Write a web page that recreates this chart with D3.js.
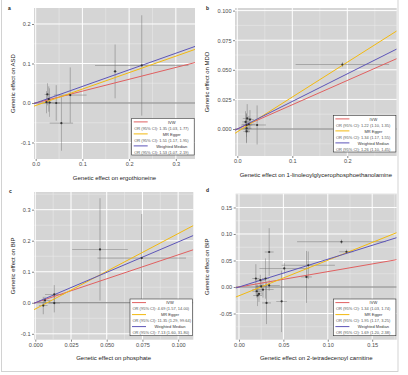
<!DOCTYPE html>
<html><head><meta charset="utf-8">
<script src="https://cdn.jsdelivr.net/npm/d3@7"></script>
<style>body{margin:0;background:#fff}svg{display:block;font-family:"Liberation Sans",Arial,sans-serif}</style>
</head><body><svg id="c" width="408" height="375"></svg>
<script>
// ---- Data ----
const methods = ["IVW", "MR Egger", "Weighted Median"];
const methodColors = ["#E06060", "#F2B90F", "#5D55B8"];

// Panel a: ergothioneine -> ASD
const aBx = [0.025, 0.023, 0.030, 0.028, 0.044, 0.055, 0.074, 0.170, 0.227];
const aBy = [0.022, 0.002, 0.001, 0.010, 0.000, -0.051, 0.020, 0.080, 0.095];
const aSx = [0.006, 0.005, 0.006, 0.005, 0.008, 0.025, 0.035, 0.004, 0.100];
const aSy = [0.028, 0.028, 0.036, 0.032, 0.045, 0.070, 0.070, 0.068, 0.127];
const aSlope = [0.300, 0.417, 0.420];
const aIntercept = [0, -0.0065, 0];
const aOR = ["OR (95% CI): 1.35 (1.03, 1.77)", "OR (95% CI): 1.51 (1.17, 1.95)", "OR (95% CI): 1.53 (1.07, 2.19)"];
const aXTicks = [0, 0.1, 0.2, 0.3];
const aXLabels = ["0.0", "0.1", "0.2", "0.3"];
const aYTicks = [-0.1, 0, 0.1, 0.2];
const aYLabels = ["-0.1", "0.0", "0.1", "0.2"];

// Panel b: 1-linoleoylglycerophosphoethanolamine -> MDD
const bBx = [0.191, 0.036, 0.018, 0.023, 0.017, 0.017, 0.017, 0.021, 0.015];
const bBy = [0.0545, 0.0034, 0.009, 0.008, 0.0034, 0.0006, -0.002, 0.004, 0.006];
const bSx = [0.085, 0.016, 0.008, 0.007, 0.010, 0.009, 0.006, 0.012, 0.006];
const bSy = [0.002, 0.0165, 0.012, 0.008, 0.010, 0.012, 0.010, 0.007, 0.009];
const bSlope = [0.205, 0.294, 0.233];
const bIntercept = [0, -0.0024, 0];
const bOR = ["OR (95% CI): 1.22 (1.10, 1.35)", "OR (95% CI): 1.34 (1.17, 1.55)", "OR (95% CI): 1.26 (1.10, 1.45)"];
const bXTicks = [0, 0.1, 0.2];
const bXLabels = ["0.0", "0.1", "0.2"];
const bYTicks = [0, 0.025, 0.05, 0.075, 0.1];
const bYLabels = ["0.000", "0.025", "0.050", "0.075", "0.100"];

// Panel c: phosphate -> BIP
const cBx = [0.0453, 0.0745, 0.0133, 0.0133, 0.0056, 0.0068];
const cBy = [0.172, 0.144, 0.027, -0.001, -0.009, 0.0075];
const cSx = [0.0195, 0.031, 0.0065, 0.004, 0.003, 0.004];
const cSy = [0.165, 0.142, 0.030, 0.030, 0.028, 0.012];
const cSlope = [1.545, 2.43, 1.96];
const cIntercept = [0, -0.020, 0];
const cOR = ["OR (95% CI): 4.69 (1.57, 14.00)", "OR (95% CI): 11.35 (1.29, 99.64)", "OR (95% CI): 7.13 (1.60, 31.80)"];
const cXTicks = [0, 0.025, 0.05, 0.075, 0.1];
const cXLabels = ["0.000", "0.025", "0.050", "0.075", "0.100"];
const cYTicks = [-0.1, 0, 0.1, 0.2, 0.3];
const cYLabels = ["-0.1", "0.0", "0.1", "0.2", "0.3"];

// Panel d: 2-tetradecenoyl carnitine -> BIP
const dBx = [0.1154, 0.121, 0.078, 0.076, 0.051, 0.048, 0.034, 0.031, 0.030, 0.027, 0.025, 0.021, 0.019, 0.024, 0.020, 0.034, 0.0225];
const dBy = [0.0854, 0.0665, 0.041, 0.019, 0.035, -0.027, 0.066, -0.030, 0.016, -0.005, 0.001, -0.016, 0.016, 0.013, -0.008, 0.003, -0.013];
const dSx = [0.050, 0.008, 0.030, 0.006, 0.028, 0.006, 0.005, 0.005, 0.004, 0.012, 0.006, 0.005, 0.004, 0.006, 0.005, 0.012, 0.004];
const dSy = [0.004, 0.004, 0.026, 0.049, 0.010, 0.058, 0.045, 0.040, 0.038, 0.015, 0.012, 0.020, 0.027, 0.010, 0.012, 0.010, 0.015];
const dSlope = [0.29, 0.67, 0.524];
const dIntercept = [0, -0.0165, 0];
const dOR = ["OR (95% CI): 1.34 (1.03, 1.74)", "OR (95% CI): 1.95 (1.17, 3.25)", "OR (95% CI): 1.69 (1.20, 2.38)"];
const dXTicks = [0, 0.05, 0.1, 0.15];
const dXLabels = ["0.00", "0.05", "0.10", "0.15"];
const dYTicks = [-0.05, 0, 0.05, 0.1, 0.15];
const dYLabels = ["-0.05", "0.00", "0.05", "0.10", "0.15"];

const panels = [
  {id:"a", xt:"Genetic effect on ergothioneine", yt:"Genetic effect on ASD",
   bx:aBx, by:aBy, sx:aSx, sy:aSy, slope:aSlope, icpt:aIntercept, or:aOR,
   xTicks:aXTicks, xLabels:aXLabels, yTicks:aYTicks, yLabels:aYLabels,
   box:[34,195,8,159], xd:[-0.0036,0.341], yd:[-0.1418,0.2405], step:[0.05,0.05], ytx:15, lab:[8,10]},
  {id:"b", xt:"Genetic effect on 1-linoleoylglycerophosphoethanolamine", yt:"Genetic effect on MDD",
   bx:bBx, by:bBy, sx:bSx, sy:bSy, slope:bSlope, icpt:bIntercept, or:bOR,
   xTicks:bXTicks, xLabels:bXLabels, yTicks:bYTicks, yLabels:bYLabels,
   box:[235,396.7,8,156], xd:[-0.0042,0.2898], yd:[-0.0228,0.1022], step:[0.05,0.0125], ytx:208.5, lab:[206,10]},
  {id:"c", xt:"Genetic effect on phosphate", yt:"Genetic effect on BIP",
   bx:cBx, by:cBy, sx:cSx, sy:cSy, slope:cSlope, icpt:cIntercept, or:cOR,
   xTicks:cXTicks, xLabels:cXLabels, yTicks:cYTicks, yLabels:cYLabels,
   box:[34,193.3,192,339.7], xd:[-0.0009,0.1106], yd:[-0.119,0.357], step:[0.0125,0.05], ytx:15, lab:[9,193]},
  {id:"d", xt:"Genetic effect on 2-tetradecenoyl carnitine", yt:"Genetic effect on BIP",
   bx:dBx, by:dBy, sx:dSx, sy:dSy, slope:dSlope, icpt:dIntercept, or:dOR,
   xTicks:dXTicks, xLabels:dXLabels, yTicks:dYTicks, yLabels:dYLabels,
   box:[235.7,396.7,193.7,339.7], xd:[-0.0037,0.1776], yd:[-0.0994,0.176], step:[0.025,0.025], ytx:208.5, lab:[206,192]}
];

const svg = d3.select("#c");
// outer frame
svg.append("rect").attr("x",1.5).attr("y",-2).attr("width",396.5).attr("height",373.5)
  .attr("fill","none").attr("stroke","#c8c8c8").attr("stroke-width",0.8);

function range(a, b, s) { const out=[]; for (let v=Math.ceil(a/s - 1e-9)*s; v<=b+1e-12; v+=s) out.push(v); return out; }

panels.forEach((p, pi) => {
  const [x0,x1,y0,y1] = p.box;
  const x = d3.scaleLinear().domain(p.xd).range([x0,x1]);
  const y = d3.scaleLinear().domain(p.yd).range([y1,y0]);
  const g = svg.append("g");
  const clipId = "clip"+p.id;
  svg.append("clipPath").attr("id",clipId).append("rect")
    .attr("x",x0).attr("y",y0).attr("width",x1-x0).attr("height",y1-y0);

  g.append("rect").attr("x",x0).attr("y",y0).attr("width",x1-x0).attr("height",y1-y0).attr("fill","#D5D5D5");
  // minor grid
  const minorX = range(p.xd[0], p.xd[1], p.step[0]).filter(v => !p.xTicks.some(t => Math.abs(t-v)<1e-9));
  const minorY = range(p.yd[0], p.yd[1], p.step[1]).filter(v => !p.yTicks.some(t => Math.abs(t-v)<1e-9));
  g.selectAll(".mx").data(minorX).enter().append("line")
    .attr("x1",d=>x(d)).attr("x2",d=>x(d)).attr("y1",y0).attr("y2",y1).attr("stroke","#ececec").attr("stroke-width",0.5);
  g.selectAll(".my").data(minorY).enter().append("line")
    .attr("y1",d=>y(d)).attr("y2",d=>y(d)).attr("x1",x0).attr("x2",x1).attr("stroke","#ececec").attr("stroke-width",0.5);
  g.selectAll(".gx").data(p.xTicks).enter().append("line")
    .attr("x1",d=>x(d)).attr("x2",d=>x(d)).attr("y1",y0).attr("y2",y1).attr("stroke","#fff").attr("stroke-width",1);
  g.selectAll(".gy").data(p.yTicks).enter().append("line")
    .attr("y1",d=>y(d)).attr("y2",d=>y(d)).attr("x1",x0).attr("x2",x1).attr("stroke","#fff").attr("stroke-width",1);

  const pl = g.append("g").attr("clip-path","url(#"+clipId+")");
  // zero line
  pl.append("line").attr("x1",x0).attr("x2",x1).attr("y1",y(0)).attr("y2",y(0)).attr("stroke","#555").attr("stroke-width",0.8);
  // error bars
  const idx = d3.range(p.bx.length);
  pl.selectAll(".ev").data(idx).enter().append("line")
    .attr("x1",i=>x(p.bx[i])).attr("x2",i=>x(p.bx[i]))
    .attr("y1",i=>y(p.by[i]-p.sy[i])).attr("y2",i=>y(p.by[i]+p.sy[i]))
    .attr("stroke","#6a6a6a").attr("stroke-width",0.6).attr("opacity",0.75);
  pl.selectAll(".eh").data(idx).enter().append("line")
    .attr("y1",i=>y(p.by[i])).attr("y2",i=>y(p.by[i]))
    .attr("x1",i=>x(p.bx[i]-p.sx[i])).attr("x2",i=>x(p.bx[i]+p.sx[i]))
    .attr("stroke","#6a6a6a").attr("stroke-width",0.6).attr("opacity",0.75);
  // method lines
  methods.forEach((m, k) => {
    pl.append("line")
      .attr("x1",x(p.xd[0])).attr("y1",y(p.icpt[k]+p.slope[k]*p.xd[0]))
      .attr("x2",x(p.xd[1])).attr("y2",y(p.icpt[k]+p.slope[k]*p.xd[1]))
      .attr("stroke",methodColors[k]).attr("stroke-width",1);
  });
  // points
  pl.selectAll(".pt").data(idx).enter().append("circle")
    .attr("cx",i=>x(p.bx[i])).attr("cy",i=>y(p.by[i])).attr("r",1.1).attr("fill","#333");

  // axes
  const ax = g.append("g").attr("transform",`translate(0,${y1})`)
    .call(d3.axisBottom(x).tickValues(p.xTicks).tickFormat((d,i)=>p.xLabels[i]).tickSize(2).tickPadding(1.5));
  const ay = g.append("g").attr("transform",`translate(${x0},0)`)
    .call(d3.axisLeft(y).tickValues(p.yTicks).tickFormat((d,i)=>p.yLabels[i]).tickSize(2).tickPadding(1.5));
  [ax, ay].forEach(a => {
    a.select(".domain").remove();
    a.selectAll(".tick line").attr("stroke","#333").attr("stroke-width",0.6);
    a.selectAll(".tick text").attr("fill","#4d4d4d").style("font-size","5.6px").style("font-family","Liberation Sans, Arial, sans-serif");
  });

  // titles
  g.append("text").attr("x",(x0+x1)/2).attr("y",y1+20.5).attr("text-anchor","middle")
    .style("font-size","6px").attr("fill","#222").text(p.xt);
  g.append("text").attr("transform",`translate(${p.ytx},${(y0+y1)/2}) rotate(-90)`).attr("text-anchor","middle")
    .style("font-size","6px").attr("fill","#222").text(p.yt);
  g.append("text").attr("x",p.lab[0]).attr("y",p.lab[1]).style("font-size","5px").style("font-weight","bold")
    .attr("fill","#222").text(p.id);

  // legend
  const lw = 62.5, lh = 36.7;
  const lx = x1 - 0.8 - lw, ly = y1 - 4 - lh;
  const lg = g.append("g");
  lg.append("rect").attr("x",lx).attr("y",ly).attr("width",lw).attr("height",lh)
    .attr("fill","#fff").attr("stroke","#333").attr("stroke-width",0.6);
  methods.forEach((m, k) => {
    const ry = ly + 1 + k*12;
    lg.append("line").attr("x1",lx+2).attr("x2",lx+16).attr("y1",ry+2.6).attr("y2",ry+2.6)
      .attr("stroke",methodColors[k]).attr("stroke-width",1);
    lg.append("text").attr("x",lx+40).attr("y",ry+4.2).attr("text-anchor","middle")
      .style("font-size","4px").attr("fill","#333").text(m);
    lg.append("text").attr("x",lx+2.5).attr("y",ry+10.2)
      .style("font-size","4px").attr("fill","#555").text(p.or[k]);
  });
});
</script></body></html>
